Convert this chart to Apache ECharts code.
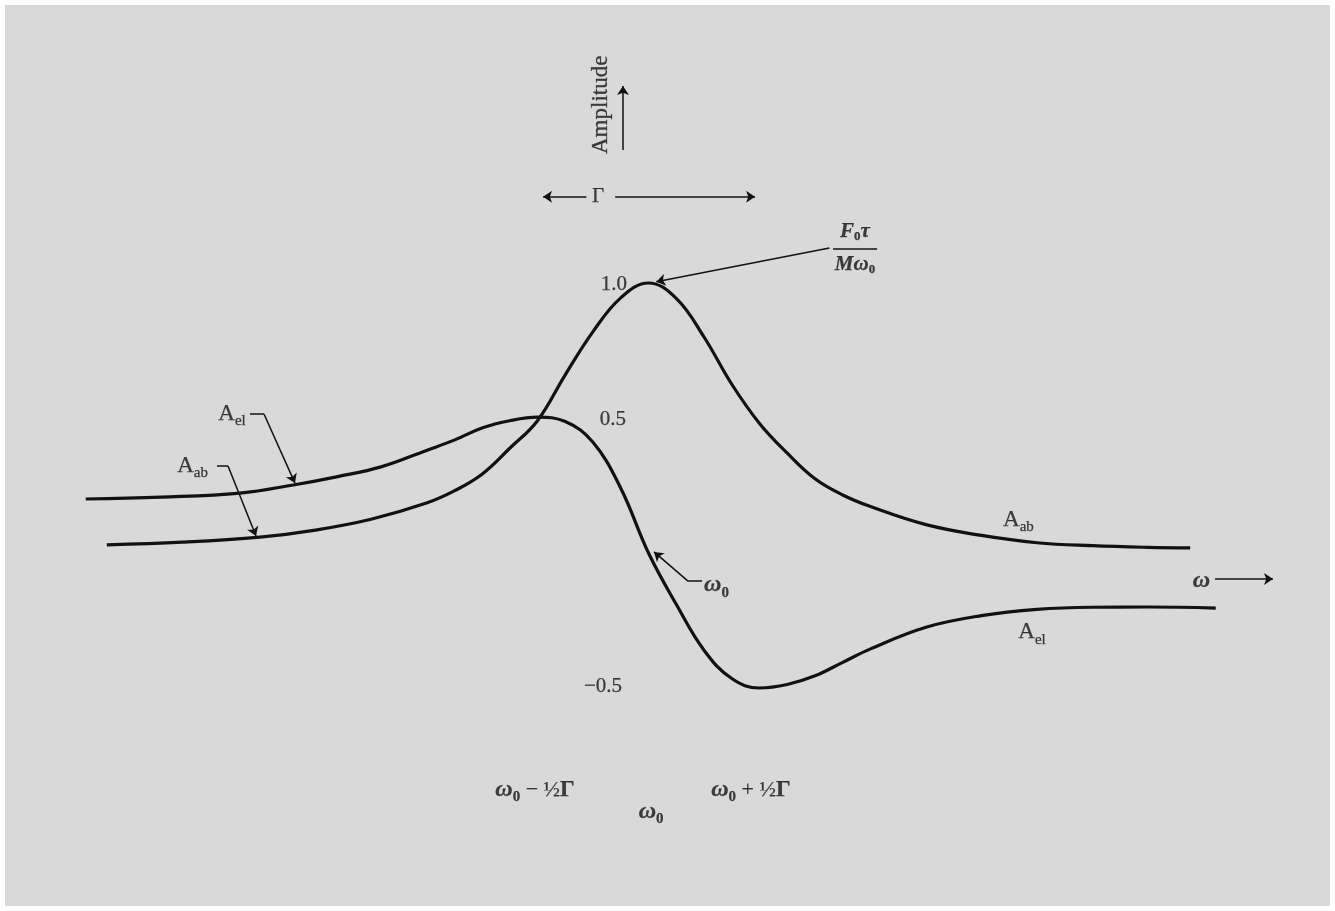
<!DOCTYPE html>
<html>
<head>
<meta charset="utf-8">
<script src="https://cdn.jsdelivr.net/npm/echarts/dist/echarts.min.js"></script>
<style>
html,body{margin:0;padding:0;background:#ffffff;}
#chart{width:1335px;height:911px;}
</style>
</head>
<body>
<div id="chart"></div>
<script>
// ---- Data (x in units of Γ/2 from ω0, y in units of F0τ/Mω0) ----
const absX = [-4.88, -4.20, -3.50, -3.00, -2.50, -2.00, -1.75, -1.50, -1.25, -1.00, -0.75, -0.50, -0.25, 0.00, 0.25, 0.50, 0.75, 1.00, 1.25, 1.50, 1.75, 2.00, 2.50, 3.00, 3.50, 4.00, 4.50, 4.88];
const absY = [0.030, 0.040, 0.059, 0.085, 0.125, 0.185, 0.230, 0.292, 0.388, 0.490, 0.660, 0.820, 0.945, 1.000, 0.943, 0.800, 0.625, 0.480, 0.370, 0.275, 0.215, 0.172, 0.105, 0.065, 0.038, 0.027, 0.021, 0.019];
const elX = [-5.07, -4.39, -3.68, -3.20, -2.80, -2.41, -2.00, -1.75, -1.50, -1.25, -1.00, -0.75, -0.50, -0.25, 0.00, 0.25, 0.50, 0.75, 1.00, 1.25, 1.50, 1.75, 2.00, 2.50, 3.00, 3.50, 4.00, 4.50, 5.11];
const elY = [0.200, 0.207, 0.222, 0.252, 0.283, 0.319, 0.380, 0.418, 0.463, 0.490, 0.503, 0.487, 0.410, 0.240, 0.000, -0.190, -0.360, -0.465, -0.500, -0.487, -0.455, -0.405, -0.355, -0.275, -0.232, -0.209, -0.201, -0.200, -0.204];
const valueTicks = ['1.0', '0.5', '\u22120.5'];

// ---- Annotation placement (data coordinates) ----
const SERIF = '"Liberation Serif","DejaVu Serif","Times New Roman",serif';
const INK = '#111111';
const B = {textBorderColor: INK, textBorderWidth: 0.25};

const rich = {
  A: Object.assign({fontFamily: SERIF, fontSize: 23, color: INK, lineHeight: 30}, B),
  sub: Object.assign({fontFamily: SERIF, fontSize: 15, color: INK, lineHeight: 12, verticalAlign: 'bottom'}, B),
  w: Object.assign({fontFamily: SERIF, fontSize: 24, fontWeight: 'bold', fontStyle: 'italic', color: INK, lineHeight: 30}, B),
  wsub: Object.assign({fontFamily: SERIF, fontSize: 15, fontWeight: 'bold', color: INK, lineHeight: 12, verticalAlign: 'bottom'}, B),
  fw: Object.assign({fontFamily: SERIF, fontSize: 21, fontWeight: 'bold', fontStyle: 'italic', color: INK, lineHeight: 24}, B),
  fsub: Object.assign({fontFamily: SERIF, fontSize: 13, fontWeight: 'bold', color: INK, lineHeight: 10, verticalAlign: 'bottom'}, B),
  n: Object.assign({fontFamily: SERIF, fontSize: 22, color: INK, lineHeight: 30}, B),
  g: Object.assign({fontFamily: SERIF, fontSize: 23, fontWeight: 'bold', color: INK, lineHeight: 30}, B)
};

const textItems = [
  {pos: [-0.43, 1.660], text: 'Amplitude', rotate: 90, size: 23},
  {pos: [-0.455, 1.319], text: 'Γ', size: 21},
  {pos: [1.86, 1.192], text: '{fw|F}{fsub|0}{fw|τ}'},
  {pos: [1.86, 1.070], text: '{fw|Mω}{fsub|0}'},
  {pos: [-0.311, 0.996], text: valueTicks[0], size: 21},
  {pos: [-0.320, 0.493], text: valueTicks[1], size: 21},
  {pos: [-0.410, -0.493], text: valueTicks[2], size: 21},
  {pos: [-3.752, 0.515], text: '{A|A}{sub|el}'},
  {pos: [-4.108, 0.322], text: '{A|A}{sub|ab}'},
  {pos: [3.333, 0.122], text: '{A|A}{sub|ab}'},
  {pos: [3.455, -0.293], text: '{A|A}{sub|el}'},
  {pos: [0.613, -0.119], text: '{w|ω}{wsub|0}'},
  {pos: [4.982, -0.104], text: '{w|ω}'},
  {pos: [-1.022, -0.878], text: '{w|ω}{wsub|0}{n| − }{n|½}{g|Γ}'},
  {pos: [0.023, -0.959], text: '{w|ω}{wsub|0}'},
  {pos: [0.923, -0.878], text: '{w|ω}{wsub|0}{n| + }{n|½}{g|Γ}'}
];

const arrowSegments = [
  [[-0.23, 1.493], [-0.23, 1.73]],
  [[-0.56, 1.319], [-0.95, 1.319]],
  [[-0.30, 1.319], [0.96, 1.319]],
  [[1.63, 1.13], [0.07, 1.005]],
  [[-3.464, 0.515], [-3.185, 0.259]],
  [[-3.788, 0.322], [-3.536, 0.063]],
  [[0.356, -0.104], [0.05, 0.004]],
  [[5.104, -0.096], [5.626, -0.096]]
];
const plainSegments = [
  [[-3.59, 0.515], [-3.464, 0.515]],
  [[-3.887, 0.322], [-3.788, 0.322]],
  [[0.356, -0.104], [0.482, -0.104]],
  [[1.662, 1.126], [2.059, 1.126]]
];

const zip = (xs, ys) => xs.map((x, i) => [x, ys[i]]);

const chart = echarts.init(document.getElementById('chart'), null, {renderer: 'canvas'});
chart.setOption({
  animation: false,
  backgroundColor: '#ffffff',
  graphic: [{
    type: 'rect', z: -10, silent: true,
    shape: {x: 5, y: 5, width: 1325, height: 901},
    style: {fill: '#d9d9d9'}
  }],
  grid: {left: 38, right: 76, top: 148, bottom: 88, containLabel: false},
  xAxis: {type: 'value', min: -5.5, max: 5.5, show: false},
  yAxis: {type: 'value', min: -1, max: 1.5, show: false},
  series: [
    {
      name: 'A_ab', type: 'line', data: zip(absX, absY),
      smooth: 0.4, showSymbol: false, clip: false, silent: true,
      lineStyle: {color: INK, width: 3.2}
    },
    {
      name: 'A_el', type: 'line', data: zip(elX, elY),
      smooth: 0.4, showSymbol: false, clip: false, silent: true,
      lineStyle: {color: INK, width: 3.2}
    },
    {
      name: 'arrows', type: 'lines', coordinateSystem: 'cartesian2d', silent: true, clip: false,
      symbol: ['none', 'arrow'], symbolSize: 9,
      lineStyle: {color: INK, width: 1.5, opacity: 1},
      data: arrowSegments.map(c => ({coords: c}))
    },
    {
      name: 'leaders', type: 'lines', coordinateSystem: 'cartesian2d', silent: true, clip: false,
      symbol: ['none', 'none'],
      lineStyle: {color: INK, width: 1.5, opacity: 1},
      data: plainSegments.map(c => ({coords: c}))
    },
    {
      name: 'labels', type: 'scatter', symbolSize: 0, silent: true, clip: false, z: 10,
      data: textItems.map(t => ({
        value: t.pos,
        label: {
          show: true, position: 'inside', formatter: t.text, rich: rich,
          rotate: t.rotate || 0,
          fontFamily: SERIF, fontSize: t.size || 20, color: INK,
          textBorderColor: INK, textBorderWidth: 0.25
        }
      }))
    }
  ]
});
</script>
</body>
</html>
